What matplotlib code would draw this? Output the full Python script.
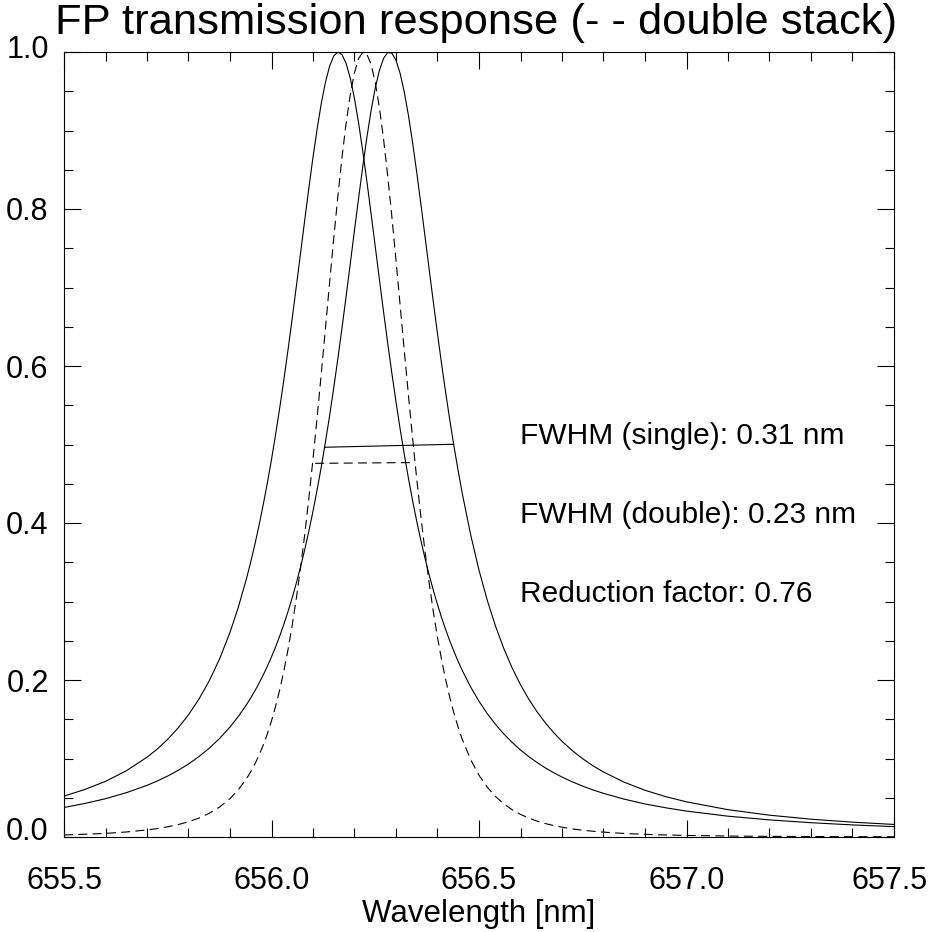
import matplotlib
matplotlib.use('Agg')
import matplotlib.pyplot as plt
from matplotlib.ticker import MultipleLocator, FixedLocator
import matplotlib.transforms as mtransforms

# ---- data ----
wavelength = [655.50, 655.55, 655.60, 655.65, 655.70, 655.725, 655.75, 655.775, 655.80, 655.825,
              655.85, 655.875, 655.90, 655.92, 655.94, 655.95, 655.96, 655.97, 655.98, 655.99,
              656.00, 656.01, 656.02, 656.03, 656.04, 656.05, 656.06, 656.07, 656.08, 656.09,
              656.10, 656.11, 656.12, 656.13, 656.14, 656.15, 656.16, 656.17, 656.18, 656.19,
              656.20, 656.21, 656.22, 656.23, 656.24, 656.25, 656.26, 656.27, 656.28, 656.29,
              656.30, 656.31, 656.32, 656.33, 656.34, 656.35, 656.36, 656.37, 656.38, 656.39,
              656.40, 656.41, 656.42, 656.43, 656.44, 656.45, 656.46, 656.48, 656.50, 656.52,
              656.54, 656.56, 656.58, 656.60, 656.62, 656.64, 656.66, 656.68, 656.70, 656.725,
              656.75, 656.775, 656.80, 656.85, 656.90, 656.95, 657.00, 657.10, 657.20, 657.30,
              657.40, 657.50]

single_a = [0.0521, 0.0605, 0.0709, 0.0843, 0.1016, 0.1122, 0.1245, 0.1389, 0.1557, 0.1755,
            0.1990, 0.2270, 0.2607, 0.2926, 0.3297, 0.3505, 0.3729, 0.3971, 0.4231, 0.4510,
            0.4810, 0.5131, 0.5472, 0.5833, 0.6214, 0.6610, 0.7020, 0.7437, 0.7855, 0.8266,
            0.8659, 0.9023, 0.9346, 0.9615, 0.9820, 0.9950, 1.0000, 0.9966, 0.9852, 0.9662,
            0.9405, 0.9091, 0.8735, 0.8346, 0.7938, 0.7521, 0.7103, 0.6691, 0.6292, 0.5908,
            0.5543, 0.5197, 0.4873, 0.4569, 0.4285, 0.4021, 0.3776, 0.3548, 0.3337, 0.3142,
            0.2961, 0.2793, 0.2637, 0.2493, 0.2359, 0.2234, 0.2118, 0.1910, 0.1729, 0.1571,
            0.1433, 0.1311, 0.1204, 0.1108, 0.1024, 0.0948, 0.0880, 0.0819, 0.0764, 0.0702,
            0.0648, 0.0599, 0.0556, 0.0482, 0.0421, 0.0372, 0.0330, 0.0265, 0.0218, 0.0182,
            0.0154, 0.0132]

single_b = [0.0376, 0.0427, 0.0488, 0.0564, 0.0658, 0.0714, 0.0777, 0.0849, 0.0930, 0.1024,
            0.1131, 0.1256, 0.1401, 0.1535, 0.1688, 0.1772, 0.1862, 0.1959, 0.2063, 0.2175,
            0.2295, 0.2424, 0.2563, 0.2714, 0.2875, 0.3050, 0.3238, 0.3441, 0.3660, 0.3896,
            0.4151, 0.4424, 0.4718, 0.5032, 0.5367, 0.5723, 0.6098, 0.6490, 0.6896, 0.7311,
            0.7730, 0.8144, 0.8543, 0.8918, 0.9254, 0.9541, 0.9766, 0.9919, 0.9993, 0.9985,
            0.9895, 0.9726, 0.9488, 0.9191, 0.8845, 0.8465, 0.8062, 0.7646, 0.7228, 0.6813,
            0.6410, 0.6021, 0.5650, 0.5299, 0.4968, 0.4658, 0.4368, 0.3848, 0.3399, 0.3014,
            0.2683, 0.2398, 0.2152, 0.1939, 0.1755, 0.1594, 0.1453, 0.1329, 0.1219, 0.1100,
            0.0996, 0.0906, 0.0828, 0.0698, 0.0595, 0.0514, 0.0448, 0.0348, 0.0278, 0.0227,
            0.0189, 0.0160]

double = [0.0026, 0.0035, 0.0046, 0.0064, 0.0090, 0.0107, 0.0130, 0.0158, 0.0194, 0.0241,
          0.0302, 0.0382, 0.0489, 0.0602, 0.0745, 0.0832, 0.0930, 0.1042, 0.1169, 0.1314,
          0.1479, 0.1666, 0.1879, 0.2120, 0.2393, 0.2700, 0.3045, 0.3428, 0.3851, 0.4314,
          0.4815, 0.5348, 0.5907, 0.6482, 0.7061, 0.7628, 0.8168, 0.8664, 0.9101, 0.9463,
          0.9738, 0.9918, 0.9996, 0.9970, 0.9841, 0.9612, 0.9292, 0.8891, 0.8423, 0.7902,
          0.7347, 0.6772, 0.6193, 0.5625, 0.5078, 0.4560, 0.4078, 0.3635, 0.3231, 0.2868,
          0.2542, 0.2253, 0.1996, 0.1769, 0.1570, 0.1394, 0.1239, 0.0984, 0.0787, 0.0634,
          0.0515, 0.0421, 0.0347, 0.0288, 0.0241, 0.0202, 0.0171, 0.0146, 0.0125, 0.0103,
          0.0086, 0.0073, 0.0062, 0.0045, 0.0034, 0.0026, 0.0020, 0.0012, 0.0008, 0.0006,
          0.0004, 0.0003]

fwhm_single_x = [656.128, 656.439]
fwhm_single_y = [0.4965, 0.5003]
fwhm_double_x = [656.105, 656.340]
fwhm_double_y = [0.476, 0.477]

note_texts = ["FWHM (single): 0.31 nm", "FWHM (double): 0.23 nm",
              "Reduction factor: 0.76"]
note_x = 656.6
note_y = [0.5, 0.4, 0.3]

title = "FP transmission response (- - double stack)"
xlabel = "Wavelength [nm]"
xticks = [655.5, 656.0, 656.5, 657.0, 657.5]
yticks = [0.0, 0.2, 0.4, 0.6, 0.8, 1.0]

# ---- drawing ----
plt.rcParams['font.family'] = ['Liberation Sans', 'DejaVu Sans']
plt.rcParams['lines.scale_dashes'] = False

W, H = 930, 932
fig = plt.figure(figsize=(W / 100, H / 100), dpi=100)
ax = fig.add_axes([64 / W, 95 / H, 830 / W, 785 / H])

lw = 0.8
dash = (6.5, 3.8)
ax.plot(wavelength, single_a, color='black', lw=lw)
ax.plot(wavelength, single_b, color='black', lw=lw)
ax.plot(wavelength, double, color='black', lw=lw, dashes=dash)
ax.plot(fwhm_single_x, fwhm_single_y, color='black', lw=lw)
ax.plot(fwhm_double_x, fwhm_double_y, color='black', lw=lw, dashes=dash)

for t, y in zip(note_texts, note_y):
    ax.text(note_x, y, t, fontsize=21.5, ha='left', va='baseline')

ax.set_xlim(655.5, 657.5)
ax.set_ylim(0.0, 1.0)
ax.xaxis.set_major_locator(FixedLocator(xticks))
ax.xaxis.set_minor_locator(MultipleLocator(0.1))
ax.yaxis.set_major_locator(FixedLocator(yticks))
ax.yaxis.set_minor_locator(MultipleLocator(0.05))
ax.set_xticklabels([f"{v:.1f}" for v in xticks])
ax.set_yticklabels([f"{v:.1f}" for v in yticks])

ax.tick_params(which='both', direction='in', top=True, right=True,
               width=0.8, colors='black')
ax.tick_params(which='major', length=12.5)
ax.tick_params(which='minor', length=6.3)
ax.tick_params(axis='x', which='major', labelsize=22, pad=21)
ax.tick_params(axis='y', which='major', labelsize=22, pad=11)
for s in ax.spines.values():
    s.set_linewidth(0.8)

# vertical nudges (pixels, upward) of the y tick labels, as seen in the reference
y_label_nudge = [9, 0, 0, 0, 0, 5]
for lab, dy in zip(ax.get_yticklabels(), y_label_nudge):
    off = mtransforms.ScaledTranslation(0, dy / 100, fig.dpi_scale_trans)
    lab.set_transform(lab.get_transform() + off)
# keep the last x label inside the canvas
last = ax.get_xticklabels()[-1]
last.set_transform(last.get_transform() +
                   mtransforms.ScaledTranslation(-4 / 100, 0, fig.dpi_scale_trans))

fig.text(479 / W, 1 - 922 / H, xlabel, fontsize=22.5, ha='center', va='baseline')
fig.text(476 / W, 1 - 23 / H, title, fontsize=31.3, ha='center', va='center')

fig.savefig('out.png', dpi=100)
